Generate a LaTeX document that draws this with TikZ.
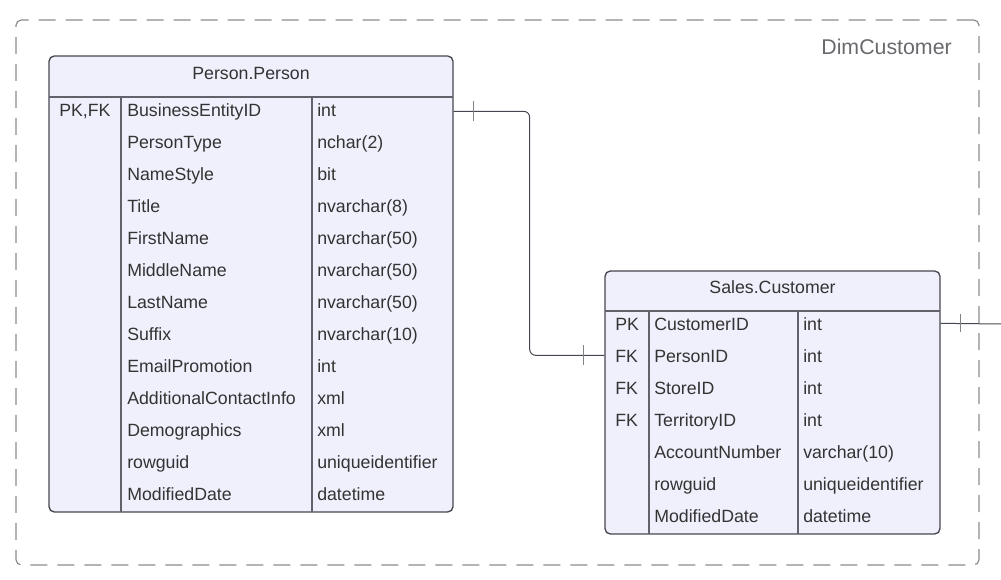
\documentclass[tikz,border=0pt]{standalone}
\usepackage{fontspec}
\setmainfont{Liberation Sans}
\usetikzlibrary{fit}

\definecolor{entfill}{RGB}{240,240,253}
\definecolor{entline}{RGB}{70,70,80}
\definecolor{txt}{RGB}{51,51,51}
\definecolor{framegray}{RGB}{140,140,140}
\definecolor{labelgray}{RGB}{105,105,110}
\definecolor{tickgray}{RGB}{130,130,135}

\begin{document}
\begin{tikzpicture}[x=0.75pt, y=-0.75pt,
    entity/.style={draw=entline, fill=entfill, line width=1pt, rounded corners=4pt, inner sep=0pt},
    cell/.style={anchor=base west, inner sep=0pt, text=txt, font=\fontsize{13.3}{16}\selectfont},
    head/.style={anchor=base, inner sep=0pt, text=txt, font=\fontsize{13.3}{16}\selectfont},
    sep/.style={draw=entline!85, line width=0.8pt},
    rel/.style={draw=entline, line width=0.75pt},
    bar/.style={draw=tickgray, line width=0.9pt}]

\useasboundingbox (0,0) rectangle (1001,580);

% subject area
\coordinate (fr-nw) at (16,20);
\coordinate (fr-se) at (979,565);
\node[draw=framegray, line width=0.9pt, dash pattern=on 12.75pt off 7.5pt,
      rounded corners=4pt, inner sep=0pt, fit=(fr-nw)(fr-se)] (dim) {};
\node[anchor=base east, inner sep=0pt, text=labelgray, font=\fontsize{16}{19}\selectfont] (dimlabel) at (952,55) {DimCustomer};

% Person.Person
\coordinate (pp-nw) at (49,56);
\coordinate (pp-se) at (453,512);
\node[entity, fit=(pp-nw)(pp-se)] (person) {};
\draw[sep] (49,97) -- (453,97);
\draw[sep] (121,97) -- (121,512);
\draw[sep] (312,97) -- (312,512);
\node[head] (pp-title) at (251,80) {Person.Person};
\foreach \k/\n/\t [count=\i] in {{PK,FK}/BusinessEntityID/int, /PersonType/nchar(2), /NameStyle/bit,
    /Title/nvarchar(8), /FirstName/nvarchar(50), /MiddleName/nvarchar(50), /LastName/nvarchar(50),
    /Suffix/nvarchar(10), /EmailPromotion/int, /AdditionalContactInfo/xml, /Demographics/xml,
    /rowguid/uniqueidentifier, /ModifiedDate/datetime} {
    \node[cell] (pp-k\i) at (59,85+32*\i) {\k};
    \node[cell] (pp-n\i) at (127,85+32*\i) {\n};
    \node[cell] (pp-t\i) at (317,85+32*\i) {\t};
};

% Sales.Customer
\coordinate (sc-nw) at (605,271);
\coordinate (sc-se) at (940,534);
\node[entity, fit=(sc-nw)(sc-se)] (customer) {};
\draw[sep] (605,311) -- (940,311);
\draw[sep] (649,311) -- (649,534);
\draw[sep] (798,311) -- (798,534);
\node[head] (sc-title) at (772.5,294) {Sales.Customer};
\foreach \k/\n/\t [count=\i] in {PK/CustomerID/int, FK/PersonID/int, FK/StoreID/int, FK/TerritoryID/int,
    /AccountNumber/varchar(10), /rowguid/uniqueidentifier, /ModifiedDate/datetime} {
    \node[cell] (sc-k\i) at (615,299+32*\i) {\k};
    \node[cell] (sc-n\i) at (654,299+32*\i) {\n};
    \node[cell] (sc-t\i) at (803,299+32*\i) {\t};
};

% relationships
\path (person.north east) ++(0,56) coordinate (pp-out);
\path (customer.north west) ++(0,85) coordinate (sc-in);
\path (customer.north east) ++(0,53) coordinate (sc-out);
\coordinate (off) at (1001,324);

\draw[rel, rounded corners=4.5pt] (pp-out) -- ++(76,0) |- (sc-in);
\draw[bar] (pp-out) ++(20,-10) -- ++(0,20);
\draw[bar] (sc-in) ++(-21,-10) -- ++(0,20);

\draw[rel] (sc-out) -- (off);
\draw[bar] (sc-out) ++(20,-9) -- ++(0,18);
\end{tikzpicture}
\end{document}
